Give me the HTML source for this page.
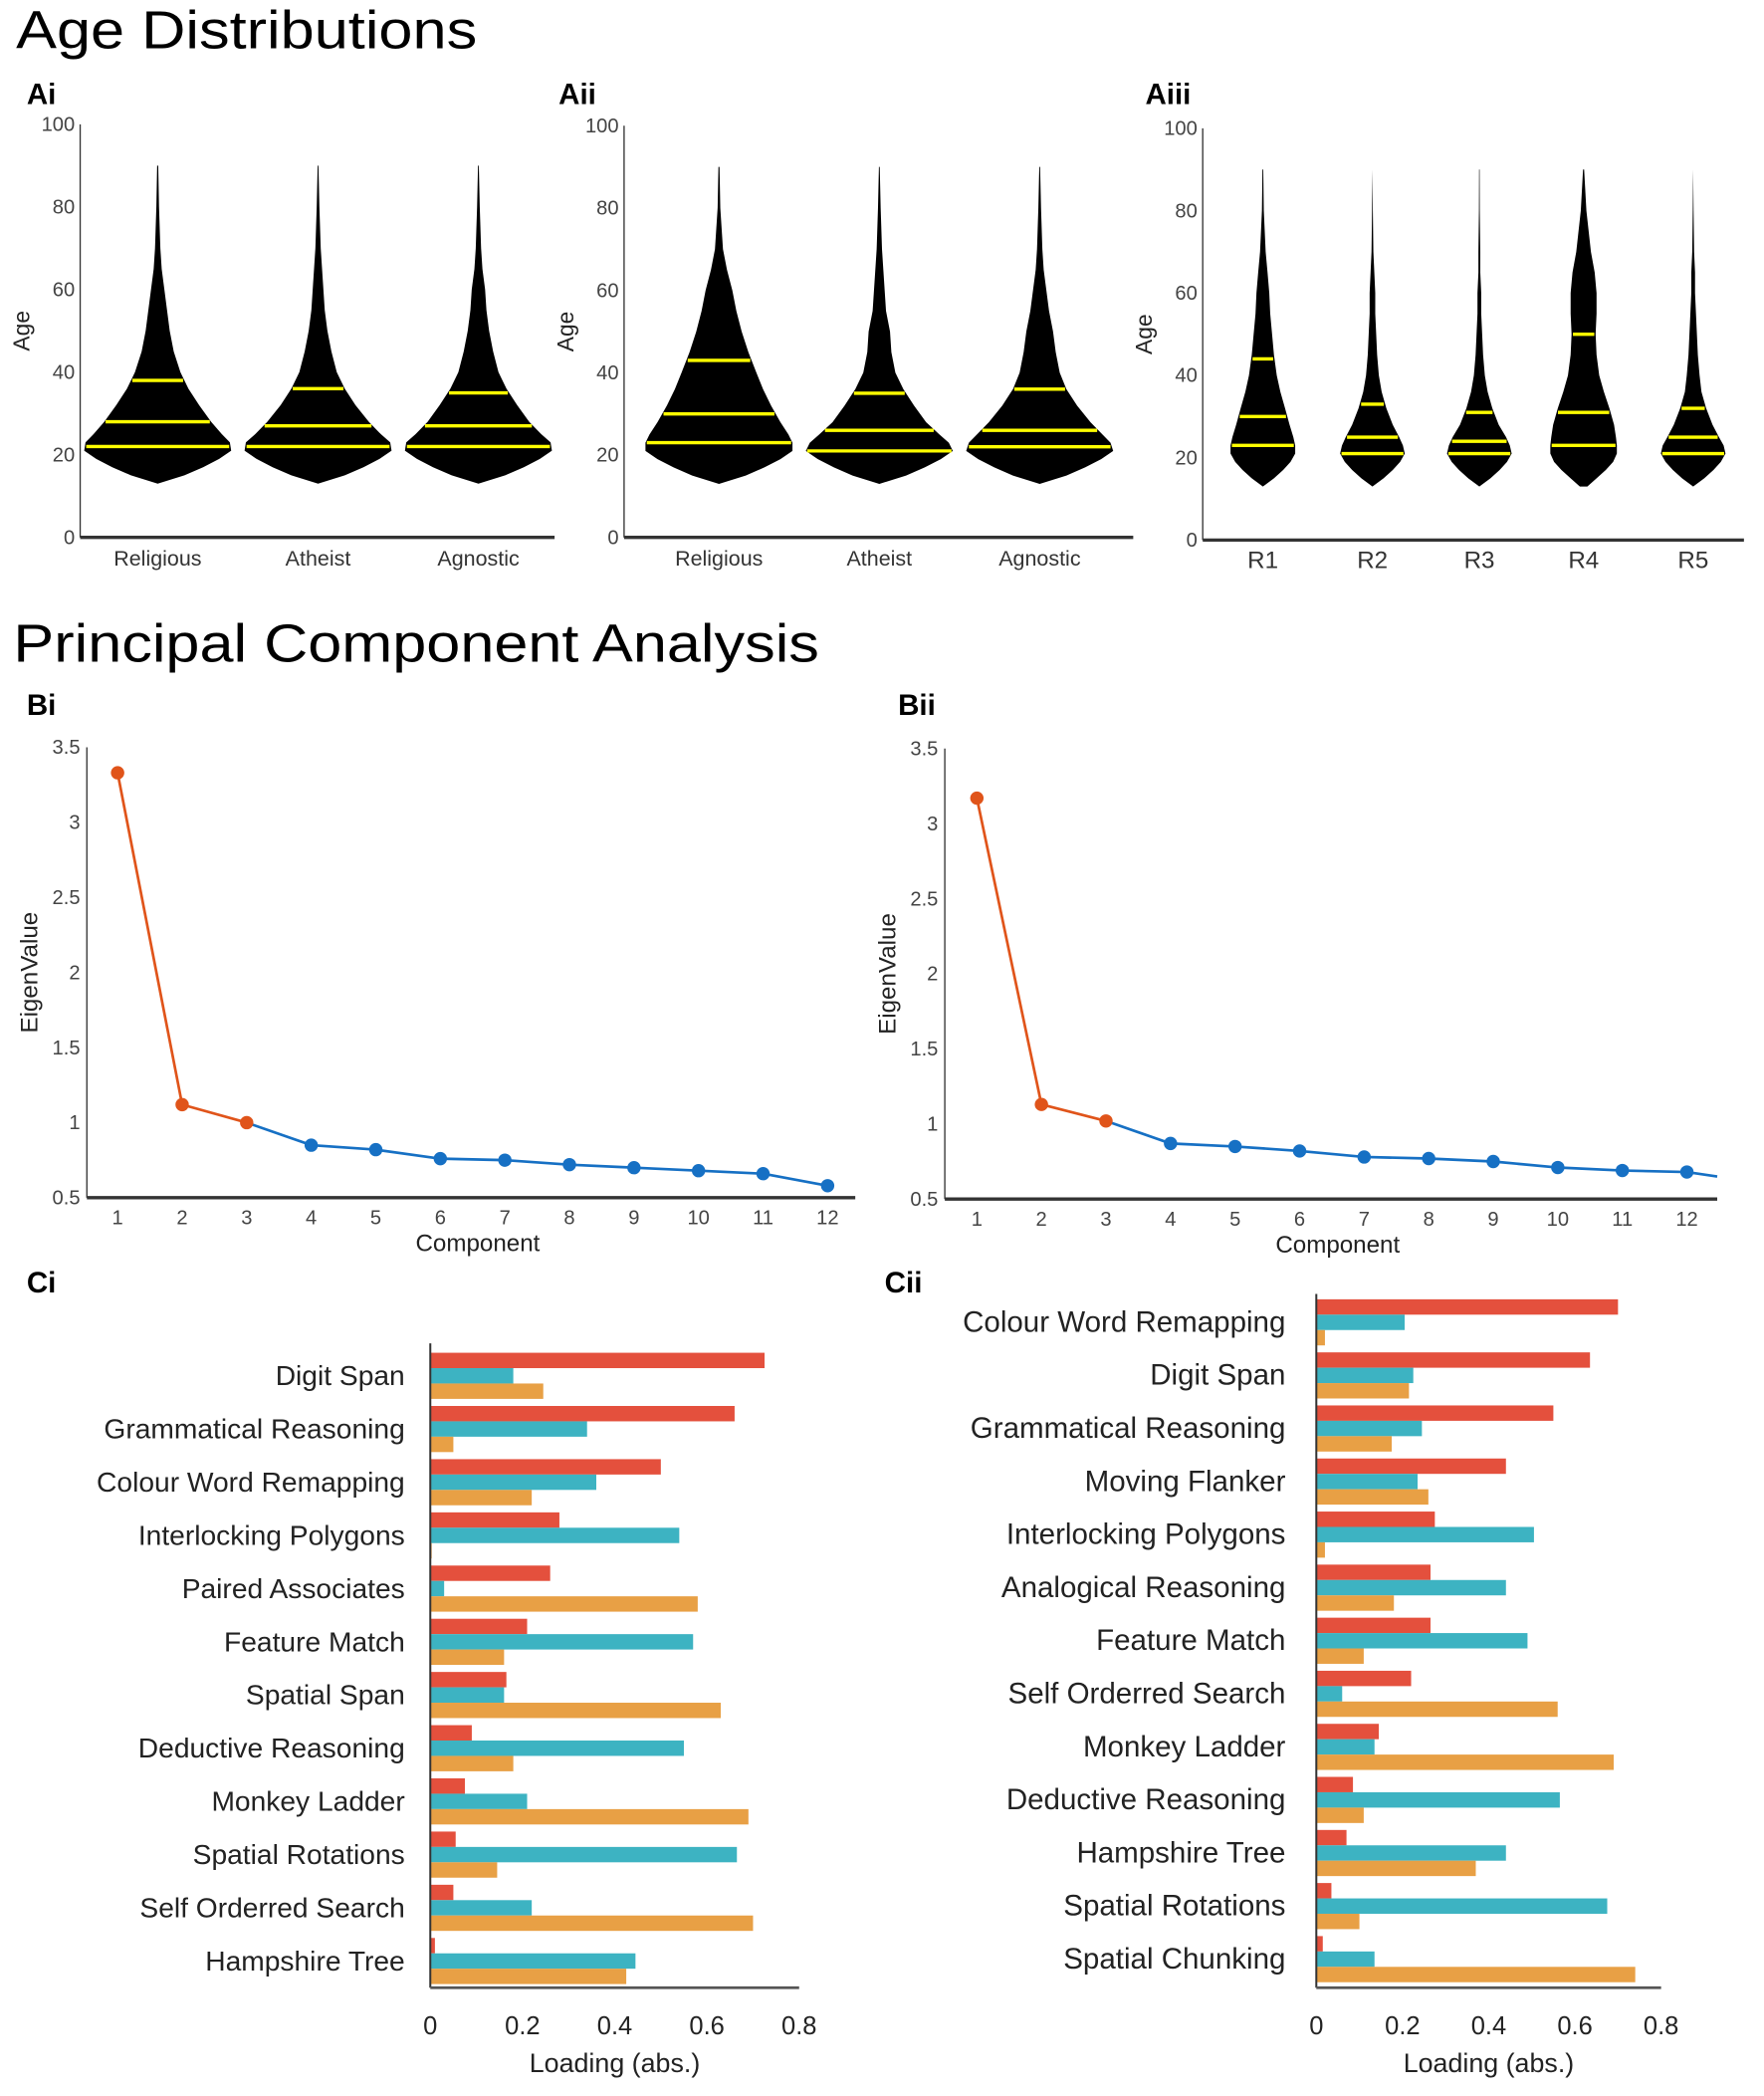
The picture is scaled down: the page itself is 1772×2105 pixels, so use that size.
<!DOCTYPE html>
<html><head><meta charset="utf-8">
<style>
html,body{margin:0;padding:0;background:#fff;}
svg{display:block;font-family:"Liberation Sans",Arial,sans-serif;}
</style></head>
<body>
<svg id="fig" width="1772" height="2105" viewBox="0 0 1320 1568" xmlns="http://www.w3.org/2000/svg">
<text x="12" y="36" font-size="40" textLength="345" lengthAdjust="spacingAndGlyphs">Age Distributions</text>
<text x="10" y="495" font-size="40" textLength="603" lengthAdjust="spacingAndGlyphs">Principal Component Analysis</text>
<text x="20" y="78" font-size="22" font-weight="bold">Ai</text>
<text x="418" y="78" font-size="22" font-weight="bold">Aii</text>
<text x="857" y="78" font-size="22" font-weight="bold">Aiii</text>
<text x="20" y="535" font-size="22" font-weight="bold">Bi</text>
<text x="672" y="535" font-size="22" font-weight="bold">Bii</text>
<text x="20" y="967" font-size="22" font-weight="bold">Ci</text>
<text x="662" y="967" font-size="22" font-weight="bold">Cii</text>
</svg>
<script>
// ---------- DATA ----------
const ageTicks = [0,20,40,60,80,100];
const profileAges = [13,15,17,19,21,23,25,28,32,36,40,45,50,55,60,65,70,80,90];
const aiCats = ["Religious","Atheist","Agnostic"];
const aiProfiles = [
 [0,20,34,46,55,54,48,40,31,23,17,12,9,7,5,3,2,1,0.4],
 [0,20,34,46,55,54,47,38,28,20,14,10,7,5,4,3,2,1,0.3],
 [0,20,34,46,55,54,47,38,29,21,15,11,8,6,5,3,2,1,0.3]];
const aiQuart = [[22,28,38],[22,27,36],[22,27,35]];
const aiiCats = ["Religious","Atheist","Agnostic"];
const aiiProfiles = [
 [0,20,34,46,55,55,52,46,39,33,28,22,17,13,10,6,3,1,0.4],
 [0,20,34,46,55,52,45,35,26,18,12,9,8,5,4,3,2,1,0.3],
 [0,20,34,46,55,53,47,38,28,20,15,12,10,7,5,3,2,1,0.3]];
const aiiQuart = [[23,30,43],[21,26,35],[22,26,36]];
const aiiiCats = ["R1","R2","R3","R4","R5"];
const aiiiProfiles = [
 [0,12,22,30,35,35,33,29,24,19,15,12,10,8,7,5,3,1,0.4],
 [0,12,22,30,35,33,29,22,15,10,7,5,4,3,3,2,1,0.4,0],
 [0,12,22,30,35,33,29,21,14,9,6,4,3,2,2,1,1,0.4,0.3],
 [4,14,24,32,36,36,35,33,28,22,17,14,13,14,14,12,8,3,0.6],
 [0,12,22,30,35,33,28,21,14,9,7,5,4,3,2,2,1,0.4,0]];
const aiiiQuart = [[23,30,44],[21,25,33],[21,24,31],[23,31,50],[21,25,32]];

const eigTicks = [0.5,1,1.5,2,2.5,3,3.5];
const components = [1,2,3,4,5,6,7,8,9,10,11,12];
const eigBi = [3.33,1.12,1.00,0.85,0.82,0.76,0.75,0.72,0.70,0.68,0.66,0.58];
const eigBii = [3.17,1.13,1.02,0.87,0.85,0.82,0.78,0.77,0.75,0.71,0.69,0.68];
const eigBiiTail = 0.65;

const loadTicks = [0,0.2,0.4,0.6,0.8];
const ciTasks = ["Digit Span","Grammatical Reasoning","Colour Word Remapping","Interlocking Polygons","Paired Associates","Feature Match","Spatial Span","Deductive Reasoning","Monkey Ladder","Spatial Rotations","Self Orderred Search","Hampshire Tree"];
const ciPC1 = [0.725,0.66,0.50,0.28,0.26,0.21,0.165,0.09,0.075,0.055,0.05,0.01];
const ciPC2 = [0.18,0.34,0.36,0.54,0.03,0.57,0.16,0.55,0.21,0.665,0.22,0.445];
const ciPC3 = [0.245,0.05,0.22,0.003,0.58,0.16,0.63,0.18,0.69,0.145,0.70,0.425];
const ciiTasks = ["Colour Word Remapping","Digit Span","Grammatical Reasoning","Moving Flanker","Interlocking Polygons","Analogical Reasoning","Feature Match","Self Orderred Search","Monkey Ladder","Deductive Reasoning","Hampshire Tree","Spatial Rotations","Spatial Chunking"];
const ciiPC1 = [0.70,0.635,0.55,0.44,0.275,0.265,0.265,0.22,0.145,0.085,0.07,0.035,0.015];
const ciiPC2 = [0.205,0.225,0.245,0.235,0.505,0.44,0.49,0.06,0.135,0.565,0.44,0.675,0.135];
const ciiPC3 = [0.02,0.215,0.175,0.26,0.02,0.18,0.11,0.56,0.69,0.11,0.37,0.10,0.74];

// ---------- HELPERS ----------
const svg = document.getElementById('fig');
const NS = 'http://www.w3.org/2000/svg';
function mk(tag, attrs, parent){
  const e = document.createElementNS(NS, tag);
  for (const k in attrs) e.setAttribute(k, attrs[k]);
  (parent||svg).appendChild(e);
  return e;
}
function txt(x,y,s,size,anchor,parent,extra){
  const t = mk('text',Object.assign({x:x,y:y,'font-size':size,'text-anchor':anchor||'start',fill:'#222'},extra||{}),parent);
  t.textContent = s;
  return t;
}

// ---------- VIOLIN PANELS ----------
function violinPanel(name, ax, x1, yTop, yBot, cats, catX, profiles, quart, maxW, catSize){
  const g = mk('g',{});
  
  
  const y = v => yBot - (v/100)*(yBot-yTop);
  const yl = mk('line',{x1:ax,y1:yTop,x2:ax,y2:yBot,stroke:'#333','stroke-width':1},g);
  
  
  const xl = mk('line',{x1:ax,y1:yBot,x2:x1,y2:yBot,stroke:'#333','stroke-width':2.5},g);
  
  
  ageTicks.forEach(t=>{
    const e = txt(ax-4, y(t)+5, String(t), 15, 'end', g, {fill:'#444'});
    
    
  });
  const yt = txt(0,0,'Age',17,'middle',g,{transform:`translate(${ax-38},${(yTop+yBot)/2}) rotate(-90)`});
  
  
  cats.forEach((c,i)=>{
    const cx = catX[i];
    const prof = profiles[i];
    let right = [], left = [];
    for (let k=0;k<profileAges.length;k++){
      const w = prof[k]/55*maxW;
      right.push(`${(cx+w).toFixed(1)},${y(profileAges[k]).toFixed(1)}`);
      left.unshift(`${(cx-w).toFixed(1)},${y(profileAges[k]).toFixed(1)}`);
    }
    const p = mk('polygon',{points:right.concat(left).join(' '),fill:'#000'},g);
    
    
    quart[i].forEach(q=>{
      let k=0; while(k<profileAges.length-2 && profileAges[k+1]<q) k++;
      const f=(q-profileAges[k])/(profileAges[k+1]-profileAges[k]);
      const w=(prof[k]+(prof[k+1]-prof[k])*f)/55*maxW;
      const l = mk('line',{x1:cx-w+1,y1:y(q),x2:cx+w-1,y2:y(q),stroke:'#ffff00','stroke-width':2.5},g);
      
      
    });
    const lt = txt(cx, yBot+21, c, catSize, 'middle', g, {fill:'#333'});
    
    
  });
}
violinPanel('violin-chart-ai',60,415,93,402,aiCats,[118,238,358],aiProfiles,aiQuart,55,16);
violinPanel('violin-chart-aii',467,848,94,402,aiiCats,[538,658,778],aiiProfiles,aiiQuart,55,16);
violinPanel('violin-chart-aiii',900,1305,96,404,aiiiCats,[945,1027,1107,1185,1267],aiiiProfiles,aiiiQuart,38,18);

// ---------- SCREE PANELS ----------
function screePanel(name, ax, x1, yTop, yBot, x1pos, step, vals, tail){
  const g = mk('g',{});
  
  
  const y = v => yBot - (v-0.5)/3*(yBot-yTop);
  const x = c => x1pos + (c-1)*step;
  const yl = mk('line',{x1:ax,y1:yTop,x2:ax,y2:yBot,stroke:'#333','stroke-width':1},g);
  
  
  const xl = mk('line',{x1:ax,y1:yBot,x2:x1,y2:yBot,stroke:'#333','stroke-width':2.5},g);
  
  
  eigTicks.forEach(t=>{
    const e = txt(ax-5, y(t)+5, String(t), 15, 'end', g, {fill:'#444'});
    
    
  });
  components.forEach(c=>{
    const e = txt(x(c), yBot+20, String(c), 15, 'middle', g, {fill:'#444'});
    
    
  });
  const xt = txt((ax+x1)/2+5, yBot+40, 'Component', 18, 'middle', g);
  
  
  const yt = txt(0,0,'EigenValue',18,'middle',g,{transform:`translate(${ax-37},${(yTop+yBot)/2}) rotate(-90)`});
  
  
  const orange='#e0541a', blue='#1670c4';
  const pOr = vals.slice(0,3).map((v,i)=>`${x(components[i])},${y(v)}`).join(' ');
  let blueVals = vals.slice(2).map((v,i)=>`${x(components[i+2])},${y(v)}`);
  if (tail!==undefined) blueVals.push(`${x1},${y(tail)}`);
  const lb = mk('polyline',{points:blueVals.join(' '),fill:'none',stroke:blue,'stroke-width':2},g);
  
  
  const lo = mk('polyline',{points:pOr,fill:'none',stroke:orange,'stroke-width':2},g);
  
  
  vals.forEach((v,i)=>{
    const c = mk('circle',{cx:x(components[i]),cy:y(v),r:5,fill:i<3?orange:blue},g);
    
    
  });
}
screePanel('scree-chart-bi',65,640,559,896,88,48.3,eigBi);
screePanel('scree-chart-bii',707,1285,560,897,731,48.3,eigBii,eigBiiTail);

// ---------- LOADING PANELS ----------
function loadPanel(name, ax, x08, yTop, yBot, firstRed, rowStep, tasks, a, b, c, labelX, fs){
  const g = mk('g',{});
  
  
  const x = v => ax + v/0.8*(x08-ax);
  const cols = ['#e4503d','#3db3c2','#e8a045'];
  const series=[a,b,c];
  const bh = 11.5;
  tasks.forEach((t,i)=>{
    const top = firstRed + i*rowStep;
    series.forEach((s,j)=>{
      const r = mk('rect',{x:ax,y:top+j*bh,width:Math.max(0,x(s[i])-ax),height:bh,fill:cols[j]},g);
      
      
    });
    const l = txt(labelX, top+bh*1.5+7, t, fs, 'end', g);
    
    
  });
  const yl = mk('line',{x1:ax,y1:yTop,x2:ax,y2:yBot,stroke:'#333','stroke-width':1.5},g);
  
  
  const xl = mk('line',{x1:ax,y1:yBot,x2:x08,y2:yBot,stroke:'#555','stroke-width':2},g);
  
  
  loadTicks.forEach(t=>{
    const e = txt(x(t), yBot+35, String(t), 19, 'middle', g);
    
    
  });
  const xt = txt((ax+x08)/2, yBot+63, 'Loading (abs.)', 20, 'middle', g);
  
  
}
loadPanel('loadings-chart-ci',322,598,1005,1487,1012,39.8,ciTasks,ciPC1,ciPC2,ciPC3,303,21);
loadPanel('loadings-chart-cii',985,1243,968,1487,972,39.7,ciiTasks,ciiPC1,ciiPC2,ciiPC3,962,22);
</script>
</body></html>
